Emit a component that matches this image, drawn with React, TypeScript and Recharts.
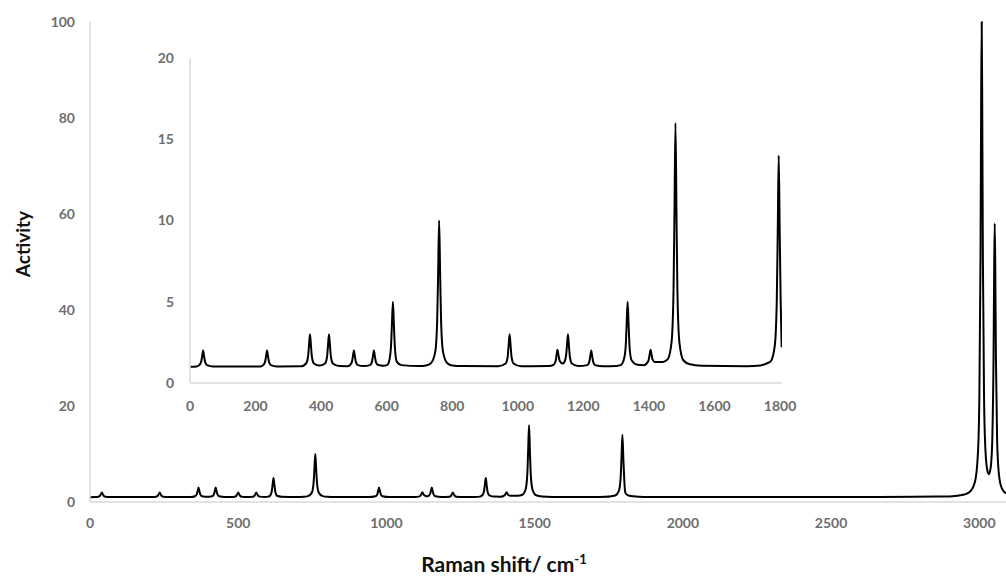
import { LineChart, Line, XAxis, YAxis } from "recharts"

// Raman shift (cm-1) and activity, peak by peak
const shift = [
  0, 20,
  28, 34, 37, 40, 43, 46, 52, 70,
  215, 223, 229, 232, 235, 238, 241, 247, 265,
  340, 354, 360, 363, 366, 369, 372, 378,
  395,
  412, 418, 421, 424, 427, 430, 436, 455,
  480, 488, 494, 497, 500, 503, 506, 512, 530,
  549, 555, 558, 561, 564, 567, 573,
  590, 602, 607, 613, 616, 619, 622, 625, 631, 645,
  700, 720, 735, 748, 754, 757, 760, 763, 766, 772, 785, 800, 830,
  940, 963, 969, 972, 975, 978, 981, 987, 1010,
  1095, 1109, 1115, 1118, 1121, 1124, 1127, 1132, 1137, 1141, 1147, 1150, 1153, 1156, 1159, 1165, 1185,
  1212, 1218, 1221, 1224, 1227, 1230, 1236, 1260,
  1300, 1315, 1323, 1329, 1332, 1335, 1338, 1341, 1347, 1365,
  1385, 1393, 1399, 1402, 1405, 1408, 1411, 1418, 1430,
  1443, 1457, 1469, 1475, 1478, 1481, 1484, 1487, 1493, 1505, 1525, 1560,
  1700, 1740, 1759, 1772, 1784, 1790, 1793, 1796, 1799, 1802, 1805, 1808, 1820, 1833, 1870,
  2000, 2300, 2500, 2650, 2780, 2860,
  2900, 2950, 2970, 2985, 2995, 3000, 3004, 3006, 3008, 3010, 3012, 3016, 3021, 3028, 3032, 3036,
  3040, 3044, 3048, 3050, 3052, 3054, 3056, 3060, 3066, 3075, 3090,
]

const activity = [
  1.0, 1.02,
  1.1, 1.3, 1.64, 2.0, 1.64, 1.3, 1.1, 1.02,
  1.02, 1.1, 1.3, 1.64, 2.0, 1.64, 1.3, 1.1, 1.02,
  1.03, 1.2, 1.6, 2.3, 3.0, 2.3, 1.6, 1.2,
  1.07,
  1.2, 1.6, 2.3, 3.0, 2.3, 1.6, 1.2, 1.04,
  1.03, 1.1, 1.3, 1.64, 2.0, 1.64, 1.3, 1.1, 1.04,
  1.1, 1.3, 1.64, 2.0, 1.64, 1.3, 1.12,
  1.06, 1.12, 1.3, 2.2, 3.6, 5.0, 3.6, 2.2, 1.3, 1.1,
  1.04, 1.08, 1.22, 1.9, 3.8, 6.8, 10.0, 6.8, 3.8, 1.9, 1.22, 1.08, 1.04,
  1.03, 1.2, 1.6, 2.3, 3.0, 2.3, 1.6, 1.2, 1.03,
  1.04, 1.12, 1.32, 1.68, 2.05, 1.72, 1.42, 1.25, 1.2, 1.25, 1.65, 2.3, 3.0, 2.3, 1.6, 1.2, 1.04,
  1.1, 1.3, 1.64, 2.0, 1.64, 1.3, 1.1, 1.03,
  1.05, 1.12, 1.4, 2.2, 3.6, 5.0, 3.6, 2.2, 1.4, 1.12,
  1.1, 1.2, 1.4, 1.72, 2.05, 1.75, 1.45, 1.3, 1.3,
  1.3, 1.45, 2.5, 5.6, 10.6, 16.0, 10.6, 5.6, 2.5, 1.4, 1.15, 1.06,
  1.03, 1.08, 1.2, 1.35, 2.3, 5.0, 9.3, 14.0, 9.3, 5.0, 2.2, 1.7, 1.3, 1.18, 1.06,
  1.03, 1.04, 1.04, 1.05, 1.08, 1.13,
  1.17, 1.56, 2.23, 4.1, 9.8, 21.1, 50.9, 80.4, 100, 80.5, 51, 21.5, 10.4, 6.3, 5.8, 6.4,
  8.2, 13.6, 30.5, 47.5, 58, 47.3, 30.2, 13, 5.8, 3.0, 1.8,
]

const mainXTicks = [0, 500, 1000, 1500, 2000, 2500, 3000]
const mainYTicks = [0, 20, 40, 60, 80, 100]
const insetXTicks = [0, 200, 400, 600, 800, 1000, 1200, 1400, 1600, 1800]
const insetYTicks = [0, 5, 10, 15, 20]

const spectrum = shift.map((x, i) => ({ x, y: activity[i] }))
const insetData = spectrum.filter((p) => p.x <= 1806)

const tickStyle = { fill: "#6e6e6e", fontSize: 14, fontWeight: 700, fontFamily: "Lato" }
const axisLine = { stroke: "#d9d9d9", strokeWidth: 1.5 }

export default function App() {
  return (
    <div style={{ position: "absolute", left: 0, top: 0, width: 1006, height: 577, background: "#fff" }}>
      <LineChart width={1006} height={577} data={spectrum} margin={{ top: 22, right: 0, bottom: 45, left: 50 }}>
        <XAxis
          type="number"
          dataKey="x"
          domain={[0, 3090]}
          ticks={mainXTicks}
          height={30}
          tickLine={false}
          tickSize={0}
          tickMargin={16}
          axisLine={axisLine}
          tick={tickStyle}
          allowDataOverflow
        />
        <YAxis
          type="number"
          domain={[0, 100]}
          ticks={mainYTicks}
          width={40}
          tickLine={false}
          tickSize={0}
          tickMargin={15}
          axisLine={axisLine}
          tick={tickStyle}
        />
        <Line type="monotone" dataKey="y" stroke="#000" strokeWidth={2} dot={false} isAnimationActive={false} />
      </LineChart>

      <div style={{ position: "absolute", left: 140, top: 40 }}>
        <LineChart width={660} height={380} data={insetData} margin={{ top: 18, right: 18, bottom: 7, left: 10 }}>
          <XAxis
            type="number"
            dataKey="x"
            domain={[0, 1806]}
            ticks={insetXTicks}
            height={30}
            tickLine={false}
            tickSize={0}
            tickMargin={18}
            axisLine={axisLine}
            tick={tickStyle}
            allowDataOverflow
          />
          <YAxis
            type="number"
            domain={[0, 20]}
            ticks={insetYTicks}
            width={40}
            tickLine={false}
            tickSize={0}
            tickMargin={16}
            axisLine={axisLine}
            tick={tickStyle}
          />
          <Line type="monotone" dataKey="y" stroke="#000" strokeWidth={2} dot={false} isAnimationActive={false} />
        </LineChart>
      </div>

      <div
        style={{
          position: "absolute",
          left: 22,
          top: 244,
          transform: "translate(-50%, -50%) rotate(-90deg)",
          fontFamily: "Lato",
          fontWeight: 700,
          fontSize: 19,
          color: "#111",
          whiteSpace: "nowrap",
        }}
      >
        Activity
      </div>
      <div
        style={{
          position: "absolute",
          left: 504,
          top: 563,
          transform: "translate(-50%, -50%)",
          fontFamily: "Lato",
          fontWeight: 700,
          fontSize: 21,
          color: "#111",
          whiteSpace: "nowrap",
        }}
      >
        Raman shift/ cm<span style={{ fontSize: 13, verticalAlign: "super" }}>-1</span>
      </div>
    </div>
  )
}
